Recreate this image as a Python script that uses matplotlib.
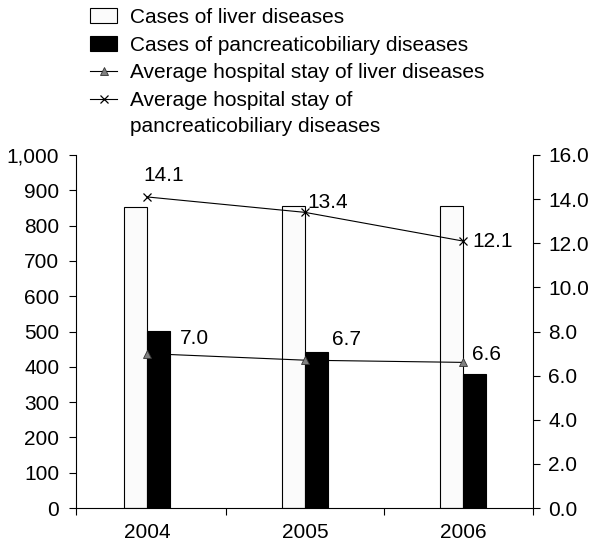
import matplotlib
matplotlib.use("Agg")
from matplotlib import pyplot as plt
from matplotlib.patches import Patch
from matplotlib.lines import Line2D
from matplotlib.ticker import FuncFormatter
import numpy as np

plt.rcParams['font.family'] = ['Liberation Sans', 'DejaVu Sans']
plt.rcParams['font.size'] = 15

# data
years = ["2004", "2005", "2006"]
liver_cases = [853, 856, 855]
pancreatic_cases = [501, 442, 380]
liver_stay = [7.0, 6.7, 6.6]
pancreatic_stay = [14.1, 13.4, 12.1]

fig = plt.figure(figsize=(5.91, 5.42), dpi=100)
ax = fig.add_axes([76 / 591, 34 / 542, 457 / 591, 353 / 542])
ax2 = ax.twinx()

x = np.arange(len(years))
w = 0.146
ax.bar(x, liver_cases, width=-w, align='edge', color='#fbfbfb', edgecolor='black', linewidth=0.8)
ax.bar(x, pancreatic_cases, width=w, align='edge', color='black', edgecolor='black', linewidth=0.8)

ax2.plot(x, liver_stay, color='black', linewidth=0.8, marker='^', markersize=6,
         markerfacecolor='#808080', markeredgecolor='#333333', markeredgewidth=0.6)
ax2.plot(x, pancreatic_stay, color='black', linewidth=0.8, marker='x', markersize=6,
         markeredgewidth=0.9)

# value labels
liver_off = [(33, 15), (27, 21), (9, 8)]
panc_off = [(-4, 21), (2, 10), (9, 0)]
for i in range(len(years)):
    ax2.annotate("%.1f" % liver_stay[i], (x[i], liver_stay[i]), xytext=liver_off[i],
                 textcoords='offset pixels', ha='left', va='center')
    ax2.annotate("%.1f" % pancreatic_stay[i], (x[i], pancreatic_stay[i]), xytext=panc_off[i],
                 textcoords='offset pixels', ha='left', va='center')

ax.set_xlim(-0.449, 2.443)
ax.set_ylim(0, 1000)
ax2.set_ylim(0, 16)
ax.set_yticks(np.arange(0, 1001, 100))
ax2.set_yticks(np.arange(0, 16.1, 2))
ax.yaxis.set_major_formatter(FuncFormatter(lambda v, p: "{:,.0f}".format(v)))
ax2.yaxis.set_major_formatter(FuncFormatter(lambda v, p: "%.1f" % v))

ax.set_xticks(x)
ax.set_xticklabels(years)
ax.set_xticks([-0.449, 0.5, 1.5, 2.443], minor=True)
ax.tick_params(axis='x', which='major', length=0, pad=11)
ax.tick_params(axis='x', which='minor', length=5, width=0.8, direction='out')
ax.tick_params(axis='y', length=5, width=0.8, pad=7)
ax2.tick_params(axis='y', length=5, width=0.8, pad=6)

for s in ['top', 'right']:
    ax.spines[s].set_visible(False)
for s in ['top', 'left', 'bottom']:
    ax2.spines[s].set_visible(False)
for a in (ax, ax2):
    for s in a.spines.values():
        s.set_linewidth(0.8)

handles = [
    Patch(facecolor='#fbfbfb', edgecolor='black', linewidth=0.8),
    Patch(facecolor='black', edgecolor='black', linewidth=0.8),
    Line2D([], [], color='black', linewidth=0.8, marker='^', markersize=6,
           markerfacecolor='#808080', markeredgecolor='#333333', markeredgewidth=0.6),
    Line2D([], [], color='black', linewidth=0.8, marker='x', markersize=6, markeredgewidth=0.9),
]
labels = [
    "Cases of liver diseases",
    "Cases of pancreaticobiliary diseases",
    "Average hospital stay of liver diseases",
    "Average hospital stay of",
]
leg = fig.legend(handles, labels, loc='upper left', bbox_to_anchor=(90 / 591, 1 - 8 / 542),
                 frameon=False, borderpad=0, borderaxespad=0, handlelength=1.3,
                 handleheight=0.7, handletextpad=0.6, labelspacing=0.42)

# second line of the last legend label, kept under the first line
fig.canvas.draw()
bb = leg.get_texts()[3].get_window_extent()
fig.text(bb.x0 / fig.bbox.width, (bb.y0 - 26) / fig.bbox.height,
         "pancreaticobiliary diseases", ha='left', va='bottom')

plt.savefig("out.png", dpi=100)
